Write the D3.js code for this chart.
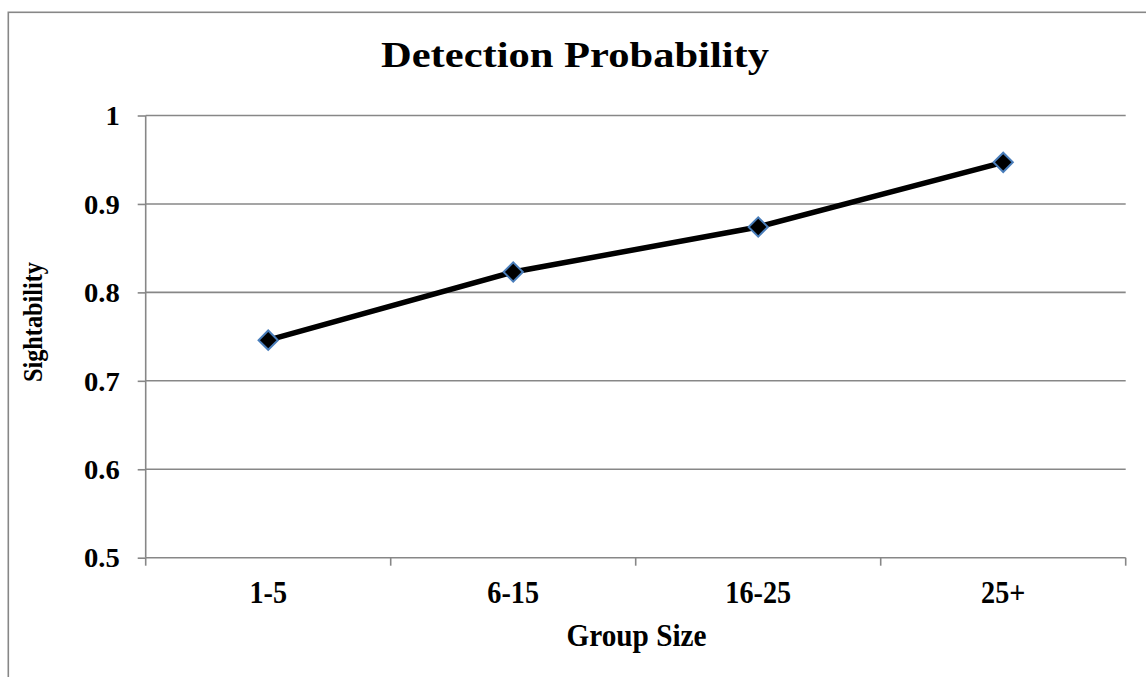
<!DOCTYPE html>
<html>
<head>
<meta charset="utf-8">
<script src="https://cdn.jsdelivr.net/npm/d3@7"></script>
<style>
  html, body { margin: 0; padding: 0; background: #fff; }
  svg { display: block; }
  text { font-family: "Liberation Serif", "Times New Roman", serif; font-weight: bold; fill: #000; }
</style>
</head>
<body>
<svg id="chart" width="1146" height="677"></svg>
<script>
// Sightability by group size
const categories = ["1-5", "6-15", "16-25", "25+"];
const sightability = [0.746, 0.823, 0.874, 0.947];
const yTickValues = [0.5, 0.6, 0.7, 0.8, 0.9, 1];
const yTickLabels = ["0.5", "0.6", "0.7", "0.8", "0.9", "1"];
const chartTitle = "Detection Probability";
const xTitle = "Group Size";
const yTitle = "Sightability";

const svg = d3.select("#chart");
const plot = { left: 145.7, right: 1125.7, top: 115.5, bottom: 557.7 };
const gridColor = "#878787";

// Narrow or widen text glyphs horizontally by a factor of their natural width
function setWidthFactor(sel, k) {
  sel.each(function () {
    const n = this.getComputedTextLength();
    d3.select(this).attr("textLength", n * k).attr("lengthAdjust", "spacingAndGlyphs");
  });
}

// Outer chart frame (right and bottom edges fall outside the view)
svg.append("rect")
  .attr("x", 8.3).attr("y", 12.3)
  .attr("width", 1160).attr("height", 700)
  .attr("fill", "#fff")
  .attr("stroke", gridColor).attr("stroke-width", 1.6);

const x = d3.scaleBand().domain(categories).range([plot.left, plot.right]);
const y = d3.scaleLinear().domain([0.5, 1]).range([plot.bottom, plot.top]);

// Horizontal gridlines
svg.append("g")
  .selectAll("line")
  .data(yTickValues.filter(v => v > 0.5))
  .join("line")
  .attr("x1", plot.left).attr("x2", plot.right)
  .attr("y1", d => y(d)).attr("y2", d => y(d))
  .attr("stroke", gridColor).attr("stroke-width", 1.6);

// Y axis
const yAxis = svg.append("g")
  .attr("transform", `translate(${plot.left},0)`)
  .call(d3.axisLeft(y)
    .tickValues(yTickValues)
    .tickFormat((d, i) => yTickLabels[i])
    .tickSize(8)
    .tickPadding(18));
yAxis.attr("font-family", null).attr("font-size", null);
yAxis.select(".domain").attr("stroke", gridColor).attr("stroke-width", 1.6)
  .attr("d", `M0,${plot.top}V${plot.bottom}`);
yAxis.selectAll(".tick line").attr("stroke", gridColor).attr("stroke-width", 1.6);
yAxis.selectAll(".tick text")
  .attr("font-size", 27)
  .attr("dy", "0.34em")
  .call(setWidthFactor, 1.06);

// X axis with ticks at band boundaries
const xAxisG = svg.append("g").attr("transform", `translate(0,${plot.bottom})`);
xAxisG.append("line")
  .attr("x1", plot.left).attr("x2", plot.right)
  .attr("stroke", gridColor).attr("stroke-width", 1.6);
const boundaries = categories.map(c => x(c)).concat([x.range()[1]]);
xAxisG.selectAll("line.tk")
  .data(boundaries)
  .join("line")
  .attr("class", "tk")
  .attr("x1", d => d).attr("x2", d => d)
  .attr("y1", 0).attr("y2", 8)
  .attr("stroke", gridColor).attr("stroke-width", 1.6);
xAxisG.selectAll("text")
  .data(categories)
  .join("text")
  .attr("x", d => x(d) + x.bandwidth() / 2)
  .attr("y", 45.5)
  .attr("text-anchor", "middle")
  .attr("font-size", 31)
  .text(d => d)
  .call(setWidthFactor, 0.91);

// Series line
const pts = categories.map((c, i) => [x(c) + x.bandwidth() / 2, y(sightability[i])]);
svg.append("path")
  .datum(pts)
  .attr("d", d3.line())
  .attr("fill", "none")
  .attr("stroke", "#000")
  .attr("stroke-width", 5.5)
  .attr("stroke-linejoin", "round");

// Diamond markers
const diamond = d3.symbol().type(d3.symbolSquare).size(185);
svg.append("g")
  .selectAll("path")
  .data(pts)
  .join("path")
  .attr("d", diamond)
  .attr("transform", d => `translate(${d[0]},${d[1]}) rotate(45)`)
  .attr("fill", "#000")
  .attr("stroke", "#4a7ebb")
  .attr("stroke-width", 2);

// Titles
svg.append("text")
  .attr("x", 575).attr("y", 67)
  .attr("text-anchor", "middle")
  .attr("font-size", 35)
  .attr("textLength", 388)
  .attr("lengthAdjust", "spacingAndGlyphs")
  .text(chartTitle);

svg.append("text")
  .attr("x", 636.5).attr("y", 646)
  .attr("text-anchor", "middle")
  .attr("font-size", 32)
  .attr("textLength", 140)
  .attr("lengthAdjust", "spacingAndGlyphs")
  .text(xTitle);

svg.append("text")
  .attr("transform", `translate(42,322) rotate(-90)`)
  .attr("text-anchor", "middle")
  .attr("font-size", 28)
  .attr("textLength", 120)
  .attr("lengthAdjust", "spacingAndGlyphs")
  .text(yTitle);
</script>
</body>
</html>
